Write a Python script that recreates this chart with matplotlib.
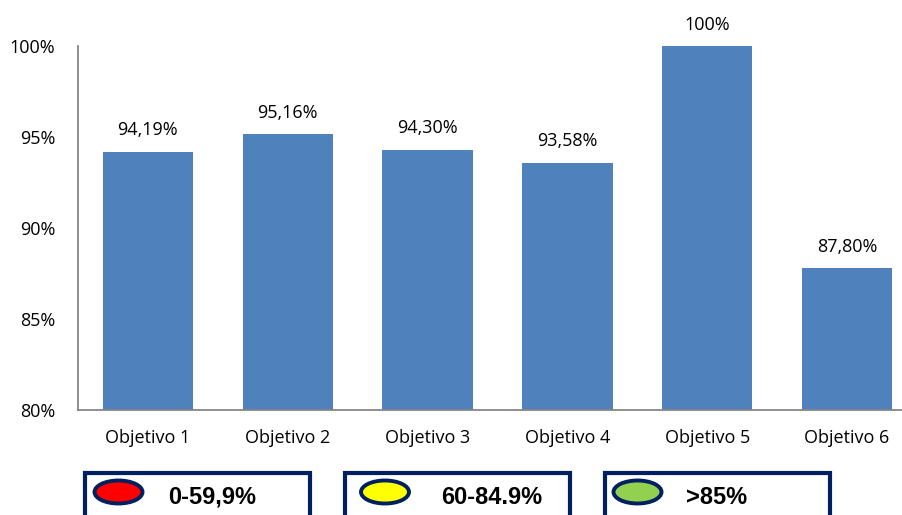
import matplotlib
matplotlib.use("Agg")
import matplotlib.pyplot as plt
from matplotlib.patches import Rectangle, Ellipse
from matplotlib import font_manager

categories = ["Objetivo 1", "Objetivo 2", "Objetivo 3", "Objetivo 4", "Objetivo 5", "Objetivo 6"]
values = [94.19, 95.16, 94.30, 93.58, 100.0, 87.80]
value_labels = ["94,19%", "95,16%", "94,30%", "93,58%", "100%", "87,80%"]
y_ticks = [80, 85, 90, 95, 100]
y_tick_labels = ["80%", "85%", "90%", "95%", "100%"]

legend_labels = ["0-59,9%", "60-84.9%", ">85%"]
legend_colors = ["#FF0000", "#FFFF00", "#92D050"]

W, H = 903, 515
BAR_COLOR = "#4F81BD"
AXIS_COLOR = "#868686"
NAVY = "#002060"

available = {f.name for f in font_manager.fontManager.ttflist}
body_font = "Open Sans" if "Open Sans" in available else "DejaVu Sans"
narrow_font = "Liberation Sans Narrow" if "Liberation Sans Narrow" in available else "Liberation Sans"

fig = plt.figure(figsize=(W / 100, H / 100), dpi=100)


def fx(px):
    return px / W


def fy(py):
    return 1 - py / H


ax = fig.add_axes([fx(78), fy(410), fx(917) - fx(78), fy(46) - fy(410)])
x = list(range(len(categories)))
bars = ax.bar(x, values, width=0.645, color=BAR_COLOR, bottom=0, zorder=2)
ax.set_xlim(-0.5, len(categories) - 0.5)
ax.set_ylim(80, 100)
ax.set_yticks(y_ticks)
ax.set_yticklabels(y_tick_labels)
ax.set_xticks(x)
ax.set_xticklabels(categories)

for s in ["top", "right"]:
    ax.spines[s].set_visible(False)
for s in ["left", "bottom"]:
    ax.spines[s].set_color(AXIS_COLOR)
    ax.spines[s].set_linewidth(1.3)
    ax.spines[s].set_clip_on(False)

ax.tick_params(axis="y", length=0, pad=16.5, labelsize=13)
ax.tick_params(axis="x", length=0, pad=14, labelsize=13)
for lbl in ax.get_xticklabels() + ax.get_yticklabels():
    lbl.set_fontfamily(body_font)

for xi, v, txt in zip(x, values, value_labels):
    ax.annotate(txt, (xi, v), xytext=(0, 9), textcoords="offset points",
                ha="center", va="bottom", fontsize=13, family=body_font,
                annotation_clip=False)

# colour-range key along the bottom
box_lefts = [85, 345, 605]
for left, label, color in zip(box_lefts, legend_labels, legend_colors):
    fig.patches.append(Rectangle((fx(left), fy(560)), fx(225), fy(473) - fy(560),
                                 transform=fig.transFigure, fill=False,
                                 edgecolor=NAVY, linewidth=3, clip_on=False))
fx_ell = [118.5, 385, 637.5]
for cx, color in zip(fx_ell, legend_colors):
    fig.patches.append(Ellipse((fx(cx), fy(492)), fx(48), 23 / H,
                               transform=fig.transFigure, facecolor=color,
                               edgecolor=NAVY, linewidth=2.8))
text_centers = [212, 492, 717]
for cx, label in zip(text_centers, legend_labels):
    fig.text(fx(cx), fy(497), label, ha="center", va="center",
             fontsize=17, fontweight="bold", family=narrow_font, color="black")

fig.savefig("out.png", dpi=100)
